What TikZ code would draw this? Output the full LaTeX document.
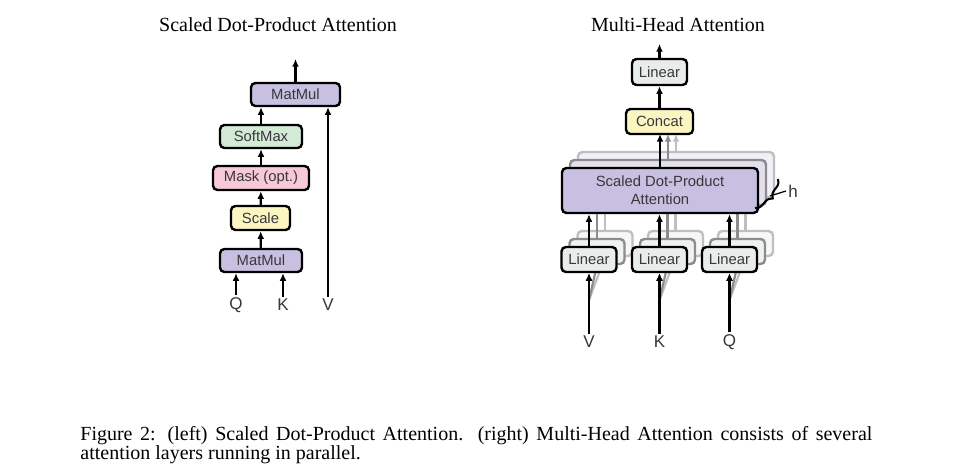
\documentclass[tikz,border=0pt]{standalone}
\usepackage{fontspec}
\setmainfont{Liberation Serif}
\newfontfamily\diafont{Liberation Sans}
\usepackage{tikz}
\usetikzlibrary{arrows.meta,positioning,calc,decorations.pathreplacing}
\usepackage{xcolor}
\definecolor{attpurple}{RGB}{200,192,224}
\definecolor{attgreen}{RGB}{211,234,215}
\definecolor{attpink}{RGB}{246,200,216}
\definecolor{attyellow}{RGB}{251,245,194}
\definecolor{attlinear}{RGB}{232,237,234}
\definecolor{attlabel}{RGB}{55,55,60}

\begin{document}
\begin{tikzpicture}[
  x=0.5pt, y=-0.5pt,
  blk/.style={draw=black, line width=1.2pt, rounded corners=2.2pt, inner sep=0pt,
              align=center, font=\diafont\fontsize{7.4}{9}\selectfont, text=attlabel},
  inp/.style={font=\diafont\fontsize{8.5}{9}\selectfont, text=attlabel, inner sep=1pt},
  arr/.style={-{Latex[length=3.8pt,width=3.4pt]}, line width=1.1pt},
  ttl/.style={font=\fontsize{10}{12}\selectfont}
]
\fill[white] (0,0) rectangle (970,476);

% left: scaled dot-product attention
\node[ttl] (ttlleft) at (278,25) {Scaled Dot-Product Attention};
\node[blk, fill=attpurple, minimum width=44.5pt, minimum height=11.5pt] (mmtop) at (295.5,94.5) {MatMul};
\node[blk, fill=attgreen, minimum width=41pt, minimum height=11.5pt] (softmax) at (261,136.5) {SoftMax};
\node[blk, fill=attpink, minimum width=48pt, minimum height=12pt] (mask) at (261,178) {Mask (opt.)};
\node[blk, fill=attyellow, minimum width=29.5pt, minimum height=12pt] (scale) at (260.5,218) {Scale};
\node[blk, fill=attpurple, minimum width=41pt, minimum height=11.5pt] (mmbot) at (261,260.5) {MatMul};
\node[inp] (qin) at (236,305) {Q};
\node[inp] (kin) at (283,305) {K};
\node[inp] (vin) at (328,305) {V};
\coordinate (outleft) at (295.5,59);
\draw[arr] (qin.north) -- (qin.north |- mmbot.south);
\draw[arr] (kin.north) -- (kin.north |- mmbot.south);
\draw[arr] (vin.north) -- (vin.north |- mmtop.south);
\draw[arr] (mmbot) -- (scale);
\draw[arr] (scale) -- (mask);
\draw[arr] (mask) -- (softmax);
\draw[arr] (softmax) -- (softmax |- mmtop.south);
\draw[arr] (mmtop) -- (outleft);

% right: multi-head attention
\node[ttl] (ttlright) at (678,25) {Multi-Head Attention};
\foreach \k/\lc/\fp/\fl in {2/black!25/attpurple!25/attlinear!40,
                             1/black!45/attpurple!50/attlinear!70,
                             0/black/attpurple/attlinear}{
  \node[blk, draw=\lc, fill=\fp, minimum width=98pt, minimum height=22.5pt]
    (sdpa\k) at (660+8*\k,190.5-8*\k) {};
  \draw[arr, draw=\lc] (660+8*\k,168-8*\k) -- (660+8*\k,134);
  \foreach \nm/\cx in {V/589,K/659.5,Q/729.5}{
    \node[blk, draw=\lc, fill=\fl, minimum width=27.5pt, minimum height=12.5pt]
      (lin\nm\k) at (\cx+8*\k,259.5-8*\k) {};
    \draw[arr, draw=\lc] (lin\nm\k.north) -- (lin\nm\k.north |- sdpa\k.south);
    \draw[arr, draw=\lc] (\cx,300) -- (lin\nm\k.south);
  }
}
\node[font=\diafont\fontsize{7.4}{9}\selectfont, text=attlabel, align=center] at (sdpa0) {Scaled Dot-Product\\Attention};
\foreach \nm in {V,K,Q}{
  \node[font=\diafont\fontsize{7.4}{9}\selectfont, text=attlabel] at (lin\nm0) {Linear};
}
\node[blk, fill=attyellow, minimum width=33.5pt, minimum height=12.5pt] (concat) at (659.5,121.5) {Concat};
\node[blk, fill=attlinear, minimum width=27.5pt, minimum height=13pt] (linout) at (659.5,72) {Linear};
\coordinate (outright) at (659.5,44);
\draw[arr] (concat) -- (linout);
\draw[arr] (linout) -- (outright);
\node[inp] (vright) at (589,342) {V};
\node[inp] (kright) at (659.5,342) {K};
\node[inp] (qright) at (729.5,342) {Q};
\draw[arr] (vright.north) -- (linV0.south);
\draw[arr] (kright.north) -- (linK0.south);
\draw[arr] (qright.north) -- (linQ0.south);

% heads brace
\draw[line width=1pt, decorate, decoration={brace, amplitude=4pt}] (778,179) -- (755,208);
\node[inp, anchor=west] (hlab) at (786,191) {h};
\draw[line width=0.6pt] (770,196) -- (hlab.west);

% caption
\node[anchor=north west, text width=396pt, align=justify, inner sep=0pt,
      font=\fontsize{10}{9.6}\selectfont] (caption) at (80,426)
  {Figure 2: (left) Scaled Dot-Product Attention. (right) Multi-Head Attention consists of several\linebreak
   attention layers running in parallel.};
\end{tikzpicture}
\end{document}
